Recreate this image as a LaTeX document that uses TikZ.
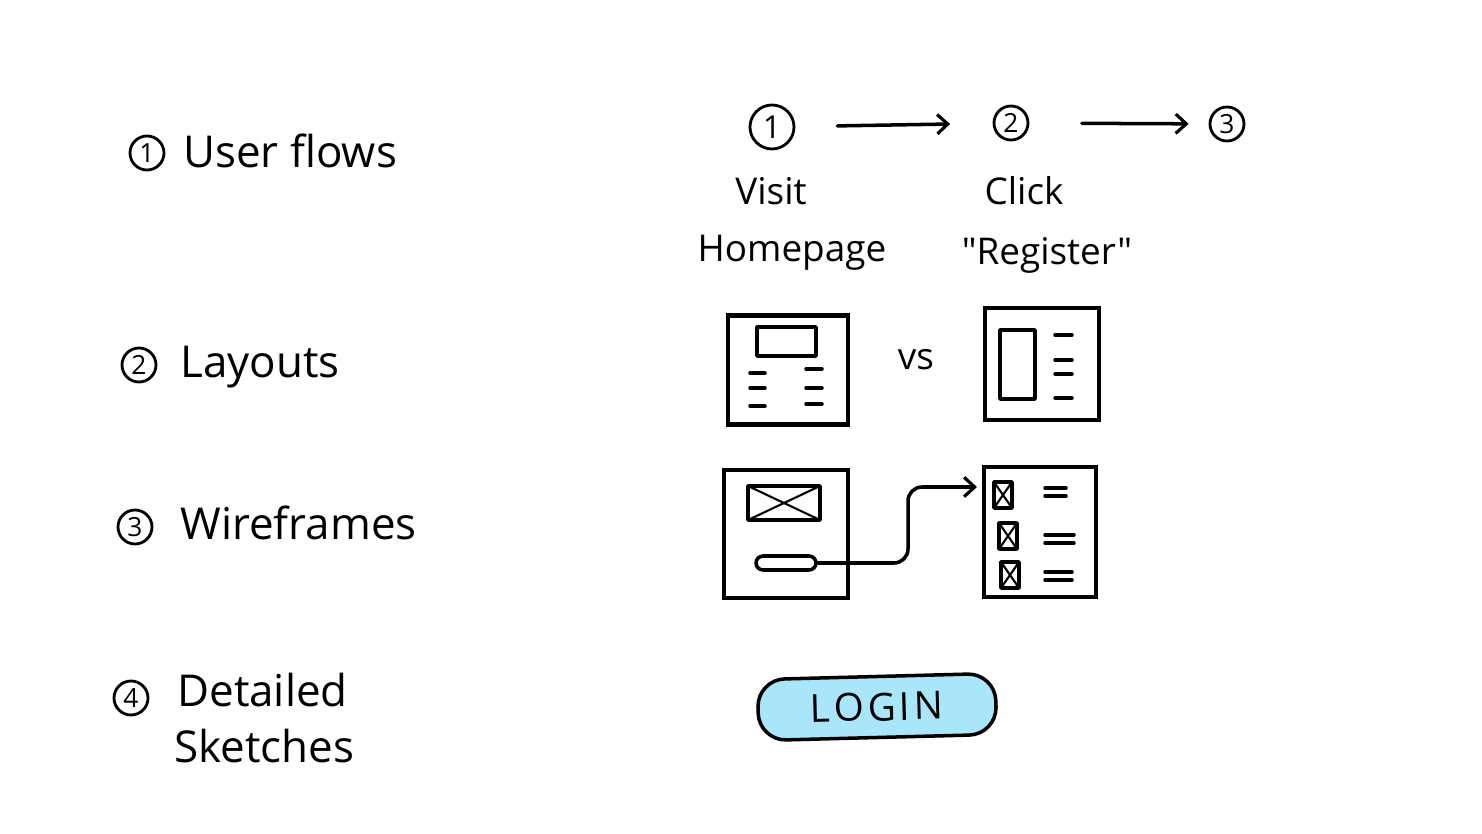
\documentclass[tikz,border=0pt]{standalone}
\usepackage{fontspec}
\setmainfont{Open Sans}
\newfontfamily\straightfont{Open Sans}
\usetikzlibrary{positioning}
\usetikzlibrary{arrows.meta}
\definecolor{loginblue}{RGB}{170,230,250}

\begin{document}
\begin{tikzpicture}[x=0.02cm, y=-0.02cm,
    sketch/.style={line width=2pt, line cap=round, line join=round},
    numcirc/.style={draw, circle, line width=1.6pt, minimum size=0.68cm, inner sep=0pt, font=\fontsize{15}{15}\selectfont},
    headtext/.style={font=\fontsize{25}{30}\selectfont, inner sep=0pt, anchor=base west},
    flowtext/.style={font=\fontsize{21}{24}\selectfont, inner sep=0pt, anchor=base},
    screen/.style={draw, line width=2.3pt, inner sep=0pt},
    barb/.style={-{Straight Barb[length=6pt, width=11pt, line width=1.8pt]}}
  ]
    \useasboundingbox (0,0) rectangle (1482,834);

    % left column
    \node[numcirc] (h1) at (147,153) {1};
    \node[headtext] (h1t) at (183,168) {User flows};
    \node[numcirc] (h2) at (139,365) {2};
    \node[headtext] (h2t) at (180,378) {Layouts};
    \node[numcirc] (h3) at (135,527) {3};
    \node[headtext] (h3t) at (180,540) {Wireframes};
    \node[numcirc] (h4) at (131,698) {4};
    \node[headtext] (h4t) at (177,706) {Detailed};
    \node[headtext] (h4u) at (174,762) {Sketches};

    % user flow
    \node[numcirc, minimum size=0.88cm, font=\fontsize{18}{18}\selectfont] (s1) at (772,127) {1};
    \node[numcirc] (s2) at (1011,123) {2};
    \node[numcirc] (s3) at (1227,124) {3};
    \draw[sketch, barb, shorten <=0.84cm, shorten >=0.85cm] (s1) -- (s2);
    \draw[sketch, barb, shorten <=1.05cm, shorten >=0.4cm] (s2) -- (s3);
    \node[flowtext] (visit) at (771,205) {Visit};
    \node[flowtext] (home) at (792,262) {Homepage};
    \node[flowtext] (click) at (1024,205) {Click};
    \node[flowtext] (reg) at (1047,265) {\straightfont "Register"};

    % layouts
    \node[screen, minimum width=2.4cm, minimum height=2.18cm] (layA) at (788,370) {};
    \draw[sketch] (757,327) rectangle (816,356);
    \foreach \y in {373,388,406} \draw[sketch] (750,\y) -- (765,\y);
    \foreach \y in {369,388,404} \draw[sketch] (806,\y) -- (822,\y);
    \node[flowtext, anchor=center] (vs) at (916,360) {vs};
    \node[screen, minimum width=2.28cm, minimum height=2.24cm] (layB) at (1042,364) {};
    \draw[sketch] (1000,330) rectangle (1035,399);
    \foreach \y in {335,360,374,398} \draw[sketch] (1055,\y) -- (1072,\y);

    % wireframes
    \node[screen, minimum width=2.48cm, minimum height=2.56cm] (wireA) at (786,534) {};
    \draw[sketch] (748,486) rectangle (820,520);
    \draw[line width=1.2pt] (748,486) -- (820,520) (748,520) -- (820,486);
    \node[draw, sketch, rounded corners=4pt, minimum width=1.2cm, minimum height=0.28cm, inner sep=0pt] (btn) at (786,563) {};
    \node[screen, minimum width=2.24cm, minimum height=2.6cm] (wireB) at (1040,532) {};
    \foreach \x/\y in {1003/495, 1008/536, 1010/575} {
      \draw[sketch] (\x-9,\y-13) rectangle (\x+9,\y+13);
      \draw[line width=1.2pt] (\x-9,\y-13) -- (\x+9,\y+13) (\x-9,\y+13) -- (\x+9,\y-13);
    }
    \foreach \y/\l in {488/1066, 535/1074, 572/1072} {
      \draw[sketch] (1045,\y) -- (\l,\y);
      \draw[sketch] (1045,\y+8) -- (\l,\y+8);
    }
    \coordinate (wbend) at (908,520);
    \coordinate (wtarget) at (977,487);
    \draw[sketch, barb, rounded corners=8pt] (btn.east) -| (wbend) |- (wtarget);

    % detailed sketch
    \node[draw, sketch, fill=loginblue, rounded corners=0.55cm, minimum width=4.76cm, minimum height=1.22cm, rotate=1.5, font=\fontsize{22}{22}\selectfont\addfontfeatures{LetterSpace=10}] (login) at (877,707) {LOGIN};
\end{tikzpicture}
\end{document}
